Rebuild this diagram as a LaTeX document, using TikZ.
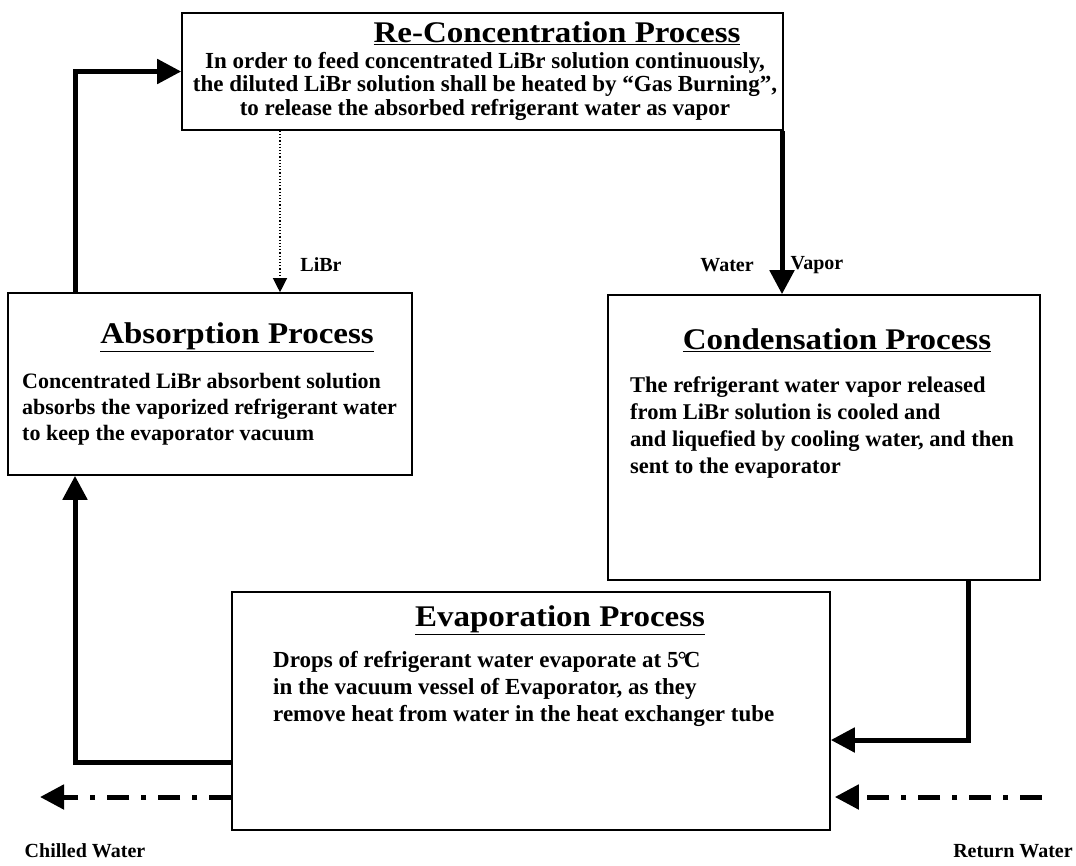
\documentclass[tikz,border=0pt]{standalone}
\usepackage{fontspec}
\usepackage{graphicx}
\setmainfont{Liberation Serif}
\usetikzlibrary{arrows.meta}
\newcommand{\proctitle}[1]{\scalebox{1.1}[1]{\underline{#1}}}
\begin{document}
\begin{tikzpicture}[x=1pt,y=-1pt,
  box/.style={draw, line width=1.6pt, inner sep=0pt},
  ttl/.style={font=\bfseries\fontsize{30}{32}\selectfont, inner sep=0pt},
  bodytext/.style={font=\bfseries\fontsize{23}{26}\selectfont, inner sep=0pt, anchor=north west, align=left},
  lbl/.style={font=\bfseries\fontsize{20}{22}\selectfont, inner sep=0pt},
  flow/.style={line width=5pt, -{Triangle[length=24pt,width=24pt]}},
  feed/.style={line width=1.2pt, dotted, -{Triangle[length=14pt,width=14pt]}},
  water/.style={line width=5pt, dash pattern=on 22pt off 12pt on 5pt off 12pt, -{Triangle[length=24pt,width=24pt]}}
]
\useasboundingbox (0,0) rectangle (1076,865);

% process boxes
\node[box, minimum width=601pt, minimum height=117pt] (rc) at (482.5,71.5) {};
\node[box, minimum width=404pt, minimum height=182pt] (ab) at (210,384) {};
\node[box, minimum width=432pt, minimum height=285pt] (cd) at (824,437.5) {};
\node[box, minimum width=598pt, minimum height=238pt] (ev) at (531,711) {};

% titles
\node[ttl] (rct) at (557,33) {\proctitle{Re-Concentration Process}};
\node[ttl] (abt) at (237,337) {\proctitle{Absorption Process}};
\node[ttl] (cdt) at (837,340) {\proctitle{Condensation Process}};
\node[ttl] (evt) at (560,620) {\proctitle{Evaporation Process}};

% descriptions
\node[bodytext, anchor=north, align=center, font=\bfseries\fontsize{23}{23.5}\selectfont] (rcb) at (485,52)
  {In order to feed concentrated LiBr solution continuously,\\
   the diluted LiBr solution shall be heated by “Gas Burning”,\\
   to release the absorbed refrigerant water as vapor};
\node[bodytext, font=\bfseries\fontsize{22}{26}\selectfont] (abb) at (22,373)
  {Concentrated LiBr absorbent solution\\
   absorbs the vaporized refrigerant water\\
   to keep the evaporator vacuum};
\node[bodytext, font=\bfseries\fontsize{22.5}{27.3}\selectfont] (cdb) at (630,376)
  {The refrigerant water vapor released\\
   from LiBr solution is cooled and\\
   and liquefied by cooling water, and then\\
   sent to the evaporator};
\node[bodytext, font=\bfseries\fontsize{23}{27}\selectfont] (evb) at (273,651)
  {Drops of refrigerant water evaporate at 5{\kern-1pt}°{\kern-3pt}C\\
   in the vacuum vessel of Evaporator, as they\\
   remove heat from water in the heat exchanger tube};

% guide coordinates for the connector runs
\coordinate (lx) at (75,0);
\coordinate (lbx) at (280,0);
\coordinate (vx) at (782,0);
\coordinate (cx) at (968,0);
\coordinate (cy) at (0,740);
\coordinate (ay) at (0,762);
\coordinate (wy) at (0,797);
\coordinate (chill) at (40,797);
\coordinate (ret) at (1042,797);

% refrigerant and solution flows
\draw[flow] (ab.north -| lx) |- (rc.west);
\draw[feed] (rc.south -| lbx) -- (ab.north -| lbx);
\draw[flow] (rc.south -| vx) -- (cd.north -| vx);
\draw[flow] (cd.south -| cx) |- (ev.east |- cy);
\draw[flow] (ev.west |- ay) -| (ab.south -| lx);

% chilled / return water
\draw[water] (ev.west |- wy) -- (chill);
\draw[water, shorten >=4pt] (ret) -- (ev.east |- wy);

% flow labels
\node[lbl] (libr) at (321,265) {LiBr};
\node[lbl] (wat) at (727,265) {Water};
\node[lbl] (vap) at (817,265) {Vapor};
\node[lbl] (chw) at (85,851) {Chilled Water};
\node[lbl] (rtw) at (1013,851) {Return Water};
\end{tikzpicture}
\end{document}
